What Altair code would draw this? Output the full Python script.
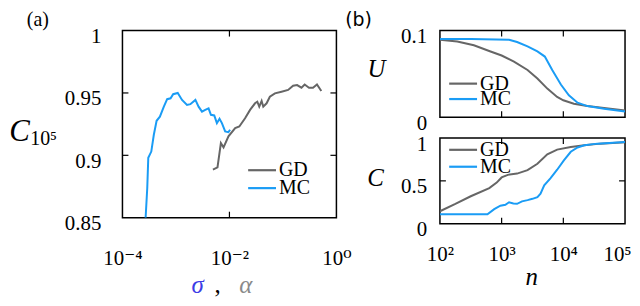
import altair as alt
import pandas as pd

# ---------------- panel (a): C_{10^5} vs sigma (MC) / alpha (GD) ----------------
mc_sigma = [2.71e-4, 2.91e-4, 3.04e-4, 3.46e-4, 3.86e-4, 4.35e-4, 5.01e-4, 5.94e-4,
            6.85e-4, 7.94e-4, 8.87e-4, 1.08e-3, 1.30e-3, 1.61e-3, 1.86e-3, 2.31e-3,
            2.65e-3, 3.07e-3, 3.53e-3, 4.07e-3, 4.51e-3, 5.20e-3, 5.83e-3, 6.52e-3,
            7.23e-3, 8.32e-3, 9.57e-3, 1.03e-2]
mc_c105 = [0.850, 0.874, 0.898, 0.903, 0.9165, 0.9277, 0.931, 0.939,
           0.945, 0.9457, 0.949, 0.950, 0.9444, 0.9404, 0.941, 0.9444,
           0.939, 0.935, 0.9364, 0.9377, 0.9325, 0.932, 0.9258, 0.9293,
           0.9258, 0.9192, 0.9186, 0.9205]
gd_alpha = [4.91e-3, 5.98e-3, 6.92e-3, 7.76e-3, 9.59e-3, 1.28e-2, 1.53e-2, 1.96e-2,
            2.43e-2, 3.01e-2, 3.32e-2, 3.61e-2, 4.00e-2, 4.29e-2, 4.95e-2, 5.70e-2,
            7.08e-2, 9.42e-2, 0.125, 0.155, 0.184, 0.222, 0.255, 0.307, 0.365,
            0.433, 0.522]
gd_c105 = [0.8886, 0.8904, 0.9098, 0.9064, 0.9152, 0.9218, 0.9231, 0.9297,
           0.9364, 0.9417, 0.9430, 0.939, 0.9436, 0.939, 0.9417, 0.947,
           0.9497, 0.951, 0.9524, 0.9558, 0.9563, 0.9542, 0.9568, 0.9542, 0.9542,
           0.9568, 0.9516]

# ---------------- panel (b): U(n) and C(n) ----------------
gd_n_u = [100, 191, 355, 661, 1000, 1585, 2630, 3800, 5500, 7940, 10000, 14800,
          24500, 45700, 100000]
gd_u = [0.0895, 0.0875, 0.083, 0.0759, 0.0712, 0.0642, 0.0545, 0.0447, 0.033,
        0.0233, 0.0195, 0.0156, 0.0128, 0.0105, 0.0078]
mc_n_u = [100, 316, 1320, 1780, 2630, 3800, 5010, 6610, 9120, 12300, 17000,
          24500, 45700, 100000]
mc_u = [0.0903, 0.0903, 0.0895, 0.0868, 0.0817, 0.0759, 0.0700, 0.0545, 0.0377,
        0.0253, 0.0167, 0.0128, 0.0097, 0.0066]

gd_n_c = [100, 178, 316, 631, 832, 1000, 1260, 1780, 2630, 3800, 5500, 7940,
          13200, 21900, 39800, 100000]
gd_c = [0.145, 0.23, 0.32, 0.415, 0.48, 0.54, 0.57, 0.585, 0.625, 0.70, 0.81,
        0.865, 0.895, 0.915, 0.935, 0.95]
mc_n_c = [100, 589, 759, 955, 1150, 1320, 1550, 1780, 2140, 2630, 3160, 3800,
          4270, 4900, 6170, 7940, 10200, 13200, 17000, 21900, 35500, 100000]
mc_c = [0.109, 0.109, 0.17, 0.21, 0.22, 0.25, 0.235, 0.232, 0.26, 0.275, 0.29,
        0.31, 0.35, 0.447, 0.53, 0.63, 0.74, 0.84, 0.89, 0.915, 0.935, 0.953]

series = ["GD", "MC"]
colors = ["#666666", "#1a9cf5"]

# tick values
a_xticks = [1e-4, 1e-2, 1.0]
a_yticks = [0.85, 0.9, 0.95, 1.0]
a_xinner = [1e-2]
a_yinner = [0.9, 0.95]
b_xticks = [1e2, 1e3, 1e4, 1e5]
b_xinner = [1e3, 1e4]
u_yticks = [0, 0.1]
c_yticks = [0, 0.5, 1]
c_yinner = [0.5]

FONT = "Liberation Serif, Times New Roman, DejaVu Serif, serif"
LBL = 21


def frame(xs_gd, ys_gd, xs_mc, ys_mc):
    return pd.DataFrame({
        "x": list(xs_gd) + list(xs_mc),
        "y": list(ys_gd) + list(ys_mc),
        "series": ["GD"] * len(xs_gd) + ["MC"] * len(xs_mc),
    })


def txt(text, x, y, size=20, style="normal", color="black", align="center",
        baseline="middle", font=FONT):
    return alt.Chart(pd.DataFrame({"t": [text]})).mark_text(
        text=text, font=font, fontSize=size, fontStyle=style, color=color,
        align=align, baseline=baseline
    ).encode(x=alt.value(x), y=alt.value(y))


def seg(x1, x2, y, color):
    return alt.Chart(pd.DataFrame({"t": [0]})).mark_rule(
        color=color, strokeWidth=2.2
    ).encode(x=alt.value(x1), x2=alt.value(x2), y=alt.value(y))


def legend(x0, y_gd, y_mc):
    return [seg(x0, x0 + 28, y_gd, colors[0]), txt("GD", x0 + 31, y_gd, align="left"),
            seg(x0, x0 + 28, y_mc, colors[1]), txt("MC", x0 + 31, y_mc, align="left")]


def panel(df, W, H, xdom, ydom, xvals, yvals, xexpr, xpad, ypad, xinner, yinner, extra,
          xoffset=0):
    xscale = alt.Scale(type="log", domain=xdom, nice=False)
    yscale = alt.Scale(domain=ydom, nice=False, zero=False)
    xaxis = alt.Axis(values=xvals, labels=xexpr is not None, labelExpr=xexpr or "datum.label",
                     ticks=False, domain=False, grid=False, title=None,
                     labelFont=FONT, labelFontSize=LBL, labelColor="black",
                     labelPadding=xpad, labelBaseline="alphabetic",
                     labelFlush=False, labelOverlap=False, labelOffset=xoffset)
    yaxis = alt.Axis(values=yvals, format="~g", ticks=False, domain=False, grid=False,
                     title=None, labelFont=FONT, labelFontSize=LBL, labelColor="black",
                     labelPadding=ypad, labelOffset=6, labelFlush=False,
                     labelOverlap=False)
    X = lambda f="x": alt.X(f + ":Q", scale=xscale, axis=xaxis)
    Y = lambda f="y": alt.Y(f + ":Q", scale=yscale, axis=yaxis)
    layers = [alt.Chart(df).mark_line(strokeWidth=2, clip=True).encode(
        x=X(), y=Y(),
        color=alt.Color("series:N", scale=alt.Scale(domain=series, range=colors),
                        legend=None))]
    if xinner:
        xt = pd.DataFrame({"x": xinner})
        layers.append(alt.Chart(xt).mark_rule(color="black", strokeWidth=1.2).encode(
            x=X(), y=alt.value(H - 6), y2=alt.value(H)))
        layers.append(alt.Chart(xt).mark_rule(color="black", strokeWidth=1.2).encode(
            x=X(), y=alt.value(0), y2=alt.value(6)))
    if yinner:
        yt = pd.DataFrame({"y": yinner})
        layers.append(alt.Chart(yt).mark_rule(color="black", strokeWidth=1.2).encode(
            y=Y(), x=alt.value(0), x2=alt.value(6)))
        layers.append(alt.Chart(yt).mark_rule(color="black", strokeWidth=1.2).encode(
            y=Y(), x=alt.value(W - 6), x2=alt.value(W)))
    layers += extra
    return alt.layer(*layers).properties(width=W, height=H)


# ---- panel (a)
WA, HA = 215, 188
a_extra = [
    txt("(a)", -85, -10.7, size=20),
    txt("C", -113.7, 111.3, size=31, style="italic", align="left", baseline="alphabetic"),
    txt("10⁵", -92.7, 115.3, size=20, align="left", baseline="alphabetic"),
    txt("σ", 75.5, 263.3, size=25, style="italic", color="#3c3ce6", baseline="alphabetic"),
    txt(",", 95.6, 263.3, size=25, baseline="alphabetic"),
    txt("α", 124, 263.3, size=25, style="italic", color="#8a8a8a", baseline="alphabetic"),
] + legend(126.3, 140.3, 158.3)
pa = panel(frame(gd_alpha, gd_c105, mc_sigma, mc_c105), WA, HA, [1e-4, 1.0], [0.85, 1.0],
           a_xticks, a_yticks,
           "datum.value < 0.001 ? '10⁻⁴' : datum.value < 0.1 ? '10⁻²' : '10⁰'",
           47.5, 21.7, a_xinner, a_yinner, a_extra)

# ---- panel (b) top: U
WB, HU, HC = 186, 87, 86
u_extra = [
    txt("(b)", -81.7, -10.7, size=19, font="DejaVu Sans"),
    txt("U", -63.7, 38.3, size=25, style="italic"),
] + legend(9.3, 53.3, 68.8)
pu = panel(frame(gd_n_u, gd_u, mc_n_u, mc_u), WB, HU, [1e2, 1e5], [0, 0.1],
           b_xticks, u_yticks, None, 0, 13.4, b_xinner, [], u_extra)

# ---- panel (b) bottom: C
c_extra = [
    txt("C", -64.7, 40.3, size=25, style="italic"),
    txt("n", 92.3, 147.3, size=25, style="italic", baseline="alphabetic"),
] + legend(9.3, 11.8, 28.8)
pc = panel(frame(gd_n_c, gd_c, mc_n_c, mc_c), WB, HC, [1e2, 1e5], [0, 1],
           b_xticks, c_yticks,
           "datum.value < 500 ? '10²' : datum.value < 5000 ? '10³' : datum.value < 50000 ? '10⁴' : '10⁵'",
           37.3, 13.4, b_xinner, c_yinner, c_extra,
           xoffset={"condition": {"test": "datum.value > 50000", "value": -8}, "value": 0})

right = alt.vconcat(pu, pc, spacing=21, bounds="flush")
chart = alt.hconcat(pa, right, spacing=104, bounds="flush").properties(
    padding={"left": 0, "top": 0, "right": 0, "bottom": -3}, background="white"
).configure_view(stroke="black", strokeWidth=1.5)

chart.save("out.html", embed_options={"renderer": "svg", "actions": False})
